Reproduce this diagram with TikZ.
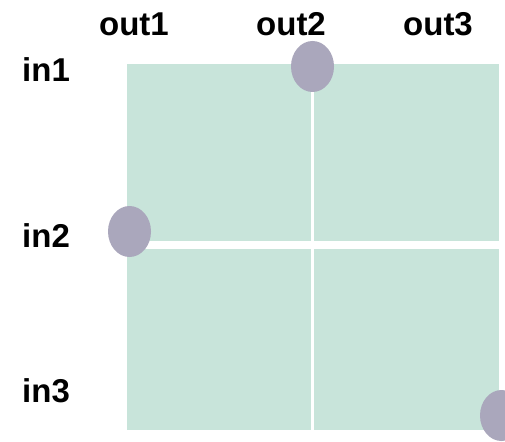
\documentclass[tikz,border=0pt]{standalone}
\usepackage{fontspec}
\setmainfont{Liberation Sans}
\usetikzlibrary{shapes.geometric}
\definecolor{cellgreen}{RGB}{200,228,218}
\definecolor{dotpurple}{RGB}{170,167,188}
\begin{document}
\begin{tikzpicture}[x=1pt,y=-1pt,
  cell/.style={fill=cellgreen,draw=none},
  dot/.style={ellipse,fill=dotpurple,draw=none,minimum width=43pt,minimum height=51pt,inner sep=0pt},
  lbl/.style={font=\fontsize{33}{38}\selectfont\bfseries,inner sep=0pt}]
\clip (0,0) rectangle (505,441);
\useasboundingbox (0,0) rectangle (505,441);
\fill[white] (0,0) rectangle (505,441);
\fill[cell] (127,64) rectangle (311,241);
\fill[cell] (314,64) rectangle (499,241);
\fill[cell] (127,249) rectangle (311,430);
\fill[cell] (314,249) rectangle (499,430);
\node[lbl,anchor=base] (o1) at (134,36) {out1};
\node[lbl,anchor=base] (o2) at (291,36) {out2};
\node[lbl,anchor=base] (o3) at (438,36) {out3};
\node[lbl,anchor=base west] (i1) at (22,82) {in1};
\node[lbl,anchor=base west] (i2) at (22,247) {in2};
\node[lbl,anchor=base west] (i3) at (22,402) {in3};
\node[dot] (d1) at (312.5,66.5) {};
\node[dot] (d2) at (129.5,231.5) {};
\node[dot] (d3) at (501.5,415.5) {};
\end{tikzpicture}
\end{document}
